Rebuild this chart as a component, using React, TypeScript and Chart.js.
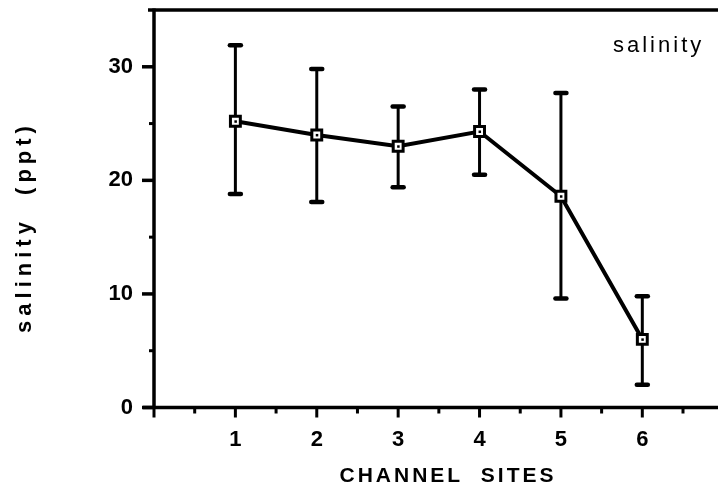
import React, { useEffect, useRef } from "react";
import { Chart, registerables } from "chart.js";

Chart.register(...registerables);

// ---- data ----
const sites = [1, 2, 3, 4, 5, 6];
const salinityMean = [25.2, 24.0, 23.0, 24.3, 18.6, 6.0];
const salinityUpper = [31.9, 29.8, 26.5, 28.0, 27.7, 9.8];
const salinityLower = [18.8, 18.1, 19.4, 20.5, 9.6, 2.0];

// ---- ticks / labels ----
const xLabelTicks = [1, 2, 3, 4, 5, 6];
const xMajorTicks = [0, 1, 2, 3, 4, 5, 6];
const xMinorTicks = [0.5, 1.5, 2.5, 3.5, 4.5, 5.5, 6.5];
const yMajorTicks = [0, 10, 20, 30];
const yMinorTicks = [5, 15, 25];
const xMin = 0;
const xMax = 6.93;
const yMin = 0;
const yMax = 35;
const xTitle = "CHANNEL  SITES";
const yTitle = "salinity  (ppt)";
const panelLabel = "salinity";

const FONT = "'Liberation Sans', Arial, Helvetica, sans-serif";

function seg(ctx: CanvasRenderingContext2D, x1: number, y1: number, x2: number, y2: number) {
  ctx.beginPath();
  ctx.moveTo(x1, y1);
  ctx.lineTo(x2, y2);
  ctx.stroke();
}

const decorPlugin = {
  id: "decor",
  beforeDatasetsDraw(chart: any) {
    const { ctx, chartArea } = chart;
    const x = chart.scales.x;
    const y = chart.scales.y;
    const { left, right, top, bottom } = chartArea;
    ctx.save();
    ctx.strokeStyle = "#000";
    ctx.fillStyle = "#000";
    ctx.lineCap = "butt";

    // frame: top, left, bottom
    ctx.lineWidth = 3.5;
    seg(ctx, left - 6, top, right, top);
    seg(ctx, left, top - 1.5, left, bottom + 1.5);
    seg(ctx, left - 11, bottom, right, bottom);

    // y ticks
    ctx.lineWidth = 3.5;
    for (const v of yMajorTicks) {
      const py = y.getPixelForValue(v);
      seg(ctx, left - 12, py, left, py);
    }
    ctx.lineWidth = 3;
    for (const v of yMinorTicks) {
      const py = y.getPixelForValue(v);
      seg(ctx, left - 5, py, left, py);
    }
    // x ticks
    ctx.lineWidth = 3;
    for (const v of xMajorTicks) {
      const px = x.getPixelForValue(v);
      seg(ctx, px, bottom, px, bottom + 10);
    }
    for (const v of xMinorTicks) {
      const px = x.getPixelForValue(v);
      seg(ctx, px, bottom, px, bottom + 6);
    }

    // error bars
    for (let i = 0; i < sites.length; i++) {
      const px = x.getPixelForValue(sites[i]);
      const yu = y.getPixelForValue(salinityUpper[i]);
      const yl = y.getPixelForValue(salinityLower[i]);
      ctx.lineWidth = 3;
      ctx.lineCap = "butt";
      seg(ctx, px, yu, px, yl);
      ctx.lineWidth = 4.5;
      ctx.lineCap = "round";
      seg(ctx, px - 5.5, yu, px + 5.5, yu);
      seg(ctx, px - 5.5, yl, px + 5.5, yl);
    }

    // texts
    const anyCtx = ctx as any;
    ctx.textBaseline = "middle";
    ctx.textAlign = "center";
    // x title
    ctx.font = `bold 21px ${FONT}`;
    anyCtx.letterSpacing = "3px";
    ctx.fillText(xTitle, 448, 476);
    // y title
    ctx.save();
    ctx.translate(25, 227);
    ctx.rotate(-Math.PI / 2);
    ctx.font = `bold 22px ${FONT}`;
    anyCtx.letterSpacing = "5px";
    ctx.fillText(yTitle, 0, 0);
    ctx.restore();
    // panel label
    ctx.font = `22px ${FONT}`;
    anyCtx.letterSpacing = "3px";
    ctx.textAlign = "left";
    ctx.textBaseline = "alphabetic";
    ctx.fillText(panelLabel, 613, 52);
    anyCtx.letterSpacing = "0px";
    ctx.restore();
  },
  afterDatasetsDraw(chart: any) {
    const { ctx } = chart;
    const x = chart.scales.x;
    const y = chart.scales.y;
    ctx.save();
    ctx.fillStyle = "#000";
    for (let i = 0; i < sites.length; i++) {
      const px = x.getPixelForValue(sites[i]);
      const py = y.getPixelForValue(salinityMean[i]);
      ctx.fillRect(px - 1, py - 1, 2.5, 2.5);
    }
    ctx.restore();
  },
};

function zeroPad(scale: any) {
  scale.paddingTop = 0;
  scale.paddingBottom = 0;
  scale.paddingLeft = 0;
  scale.paddingRight = 0;
}

export default function App() {
  const canvasRef = useRef<HTMLCanvasElement | null>(null);

  useEffect(() => {
    const canvas = canvasRef.current;
    if (!canvas) return;
    const chart = new Chart(canvas, {
      type: "line",
      data: {
        datasets: [
          {
            label: "salinity",
            data: sites.map((s, i) => ({ x: s, y: salinityMean[i] })),
            borderColor: "#000",
            borderWidth: 4,
            pointStyle: "rect",
            pointRadius: 7,
            pointBorderWidth: 3,
            pointBackgroundColor: "#fff",
            pointBorderColor: "#000",
            tension: 0,
            fill: false,
            clip: false,
          },
        ],
      },
      options: {
        animation: false,
        responsive: false,
        devicePixelRatio: 1,
        layout: { autoPadding: false, padding: { top: 10, right: 0, left: 0, bottom: 0 } },
        plugins: {
          legend: { display: false },
          tooltip: { enabled: false },
          title: { display: false },
        },
        scales: {
          x: {
            type: "linear",
            min: xMin,
            max: xMax,
            grid: { display: false, drawTicks: false },
            border: { display: false },
            afterBuildTicks: (scale: any) => {
              scale.ticks = xLabelTicks.map((v) => ({ value: v }));
            },
            afterFit: (scale: any) => {
              scale.height = 87.5;
              zeroPad(scale);
            },
            ticks: {
              color: "#000",
              padding: 19,
              maxRotation: 0,
              autoSkip: false,
              font: { family: FONT, size: 22, weight: "bold" },
              callback: (v: any) => String(v),
            },
          },
          y: {
            type: "linear",
            min: yMin,
            max: yMax,
            grid: { display: false, drawTicks: false },
            border: { display: false },
            afterBuildTicks: (scale: any) => {
              scale.ticks = yMajorTicks.map((v) => ({ value: v }));
            },
            afterFit: (scale: any) => {
              scale.width = 154;
              zeroPad(scale);
            },
            ticks: {
              color: "#000",
              padding: 21,
              autoSkip: false,
              font: { family: FONT, size: 22, weight: "bold" },
              callback: (v: any) => String(v),
            },
          },
        },
      },
      plugins: [decorPlugin],
    } as any);
    return () => chart.destroy();
  }, []);

  return (
    <div style={{ position: "absolute", left: 0, top: 0, width: 718, height: 495, background: "#fff" }}>
      <canvas ref={canvasRef} width={718} height={495} style={{ display: "block" }} />
    </div>
  );
}
